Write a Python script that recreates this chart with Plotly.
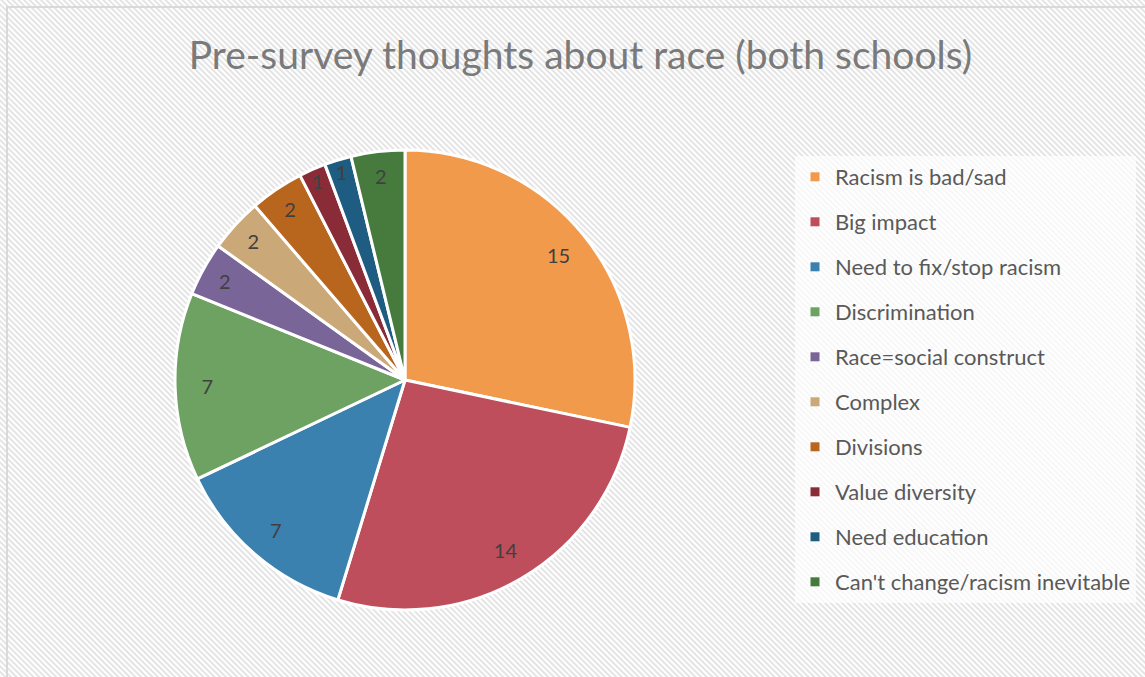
import base64
import plotly.graph_objects as go

categories = ["Racism is bad/sad", "Big impact", "Need to fix/stop racism", "Discrimination",
              "Race=social construct", "Complex", "Divisions", "Value diversity",
              "Need education", "Can't change/racism inevitable"]
values = [15, 14, 7, 7, 2, 2, 2, 1, 1, 2]
colors = ["#F29A4C", "#BE4E5B", "#3A81B0", "#6EA262", "#7A6598",
          "#CBA877", "#B8661D", "#8A2C38", "#1F5C82", "#467B3D"]
title_text = "Pre-survey thoughts about race (both schools)"

W, H = 1145, 677

hatch_svg = f'''<svg xmlns="http://www.w3.org/2000/svg" width="{W}" height="{H}">
<defs><pattern id="p" patternUnits="userSpaceOnUse" width="4" height="4" patternTransform="rotate(-45)">
<rect width="4" height="4" fill="#ffffff"/><rect width="2" height="4" fill="#e4e4e4"/></pattern></defs>
<rect x="0" y="0" width="{W}" height="{H}" fill="url(#p)"/></svg>'''
hatch_uri = "data:image/svg+xml;base64," + base64.b64encode(hatch_svg.encode()).decode()

pie_domain = dict(x=[175 / W, 635 / W], y=[(H - 610) / H, (H - 150) / H])

fig = go.Figure()
# filled slices
fig.add_trace(go.Pie(
    labels=categories, values=values, sort=False, direction="clockwise", rotation=0,
    marker=dict(colors=colors, line=dict(color="white", width=3)),
    textinfo="none", domain=pie_domain, showlegend=False, hoverinfo="label+value",
))
# value labels placed in the outer ring of the same slices
fig.add_trace(go.Pie(
    labels=categories, values=values, sort=False, direction="clockwise", rotation=0,
    hole=0.72,
    marker=dict(colors=["rgba(0,0,0,0)"] * len(values), line=dict(width=0)),
    textinfo="value", textposition="inside", insidetextorientation="horizontal",
    textfont=dict(family="Lato", size=20, color="#404040"),
    domain=pie_domain, showlegend=False, hoverinfo="skip",
))

for c, col in zip(categories, colors):
    fig.add_trace(go.Scatter(
        x=[None], y=[None], mode="markers", name=c, legendgroup=c,
        marker=dict(symbol="square", size=9, color=col),
        showlegend=True,
    ))

fig.update_layout(
    width=W, height=H,
    margin=dict(l=0, r=0, t=0, b=0),
    paper_bgcolor="white", plot_bgcolor="rgba(0,0,0,0)",
    xaxis=dict(visible=False), yaxis=dict(visible=False),
    title=dict(text=title_text, x=0.507, xanchor="center", y=1 - 55 / H, yanchor="middle",
               font=dict(family="Lato", size=39, color="#7a7a7a")),
    legend=dict(x=795 / W, xanchor="left", y=1 - 156 / H, yanchor="top",
                bgcolor="rgba(255,255,255,0.7)", tracegroupgap=13.4,
                traceorder="grouped",
                font=dict(family="Lato", size=22, color="#595959"),
                itemclick=False, itemdoubleclick=False),
    uniformtext=dict(minsize=20, mode="show"),
    images=[dict(source=hatch_uri, xref="paper", yref="paper", x=0, y=1,
                 sizex=1, sizey=1, sizing="stretch", layer="below",
                 xanchor="left", yanchor="top")],
    shapes=[dict(type="rect", xref="paper", yref="paper",
                 x0=7 / W, y0=-0.05, x1=1.05, y1=1 - 7 / H,
                 line=dict(color="#d9d9d9", width=2), fillcolor="rgba(0,0,0,0)")],
)

fig.write_html("out.html")
